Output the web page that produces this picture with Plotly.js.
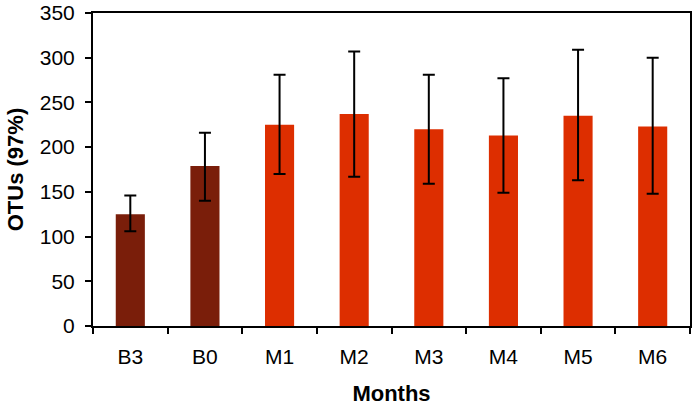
<!DOCTYPE html>
<html><head><meta charset="utf-8">
<script src="https://cdn.plot.ly/plotly-3.0.1.min.js"></script>
<style>html,body{margin:0;padding:0;background:#fff}</style>
</head><body><div id="chart" style="width:698px;height:406px"></div>
<script>
const categories = ["B3","B0","M1","M2","M3","M4","M5","M6"];
const otus = [125, 179, 225, 237, 220, 213, 235, 223];
const errPlus = [21, 37, 56, 70, 61, 64, 74, 77];
const errMinus = [19, 39, 55, 70, 61, 64, 72, 75];
const barColors = ["#7a1e0a","#7a1e0a","#dd2e00","#dd2e00","#dd2e00","#dd2e00","#dd2e00","#dd2e00"];

const font = "Liberation Sans, Arial, sans-serif";
Plotly.newPlot("chart", [{
  type: "bar", x: categories, y: otus,
  marker: {color: barColors},
  error_y: {type: "data", symmetric: false, array: errPlus, arrayminus: errMinus,
            color: "#000", thickness: 2, width: 6}
}], {
  width: 698, height: 406,
  margin: {l: 93, r: 8, t: 13, b: 80},
  bargap: 0.61,
  showlegend: false,
  paper_bgcolor: "#fff", plot_bgcolor: "#fff",
  font: {family: font, color: "#000"},
  xaxis: {
    tickson: "boundaries", ticks: "outside", ticklen: 6, tickwidth: 2, tickcolor: "#000",
    showline: true, linecolor: "#000", linewidth: 2, mirror: true,
    tickfont: {size: 21, family: font}, ticklabelstandoff: 11,
    title: {text: "<b>Months</b>", font: {size: 22, family: font}, standoff: 19}
  },
  yaxis: {
    range: [0, 350], dtick: 50, ticks: "outside", ticklen: 6, tickwidth: 2, tickcolor: "#000",
    showline: true, linecolor: "#000", linewidth: 2, mirror: true, showgrid: false, zeroline: false,
    tickfont: {size: 21, family: font}, ticklabelstandoff: 6,
    title: {text: "<b>OTUs (97%)</b>", font: {size: 22, family: font}, standoff: 10}
  }
}, {displayModeBar: false, staticPlot: true});
</script></body></html>
